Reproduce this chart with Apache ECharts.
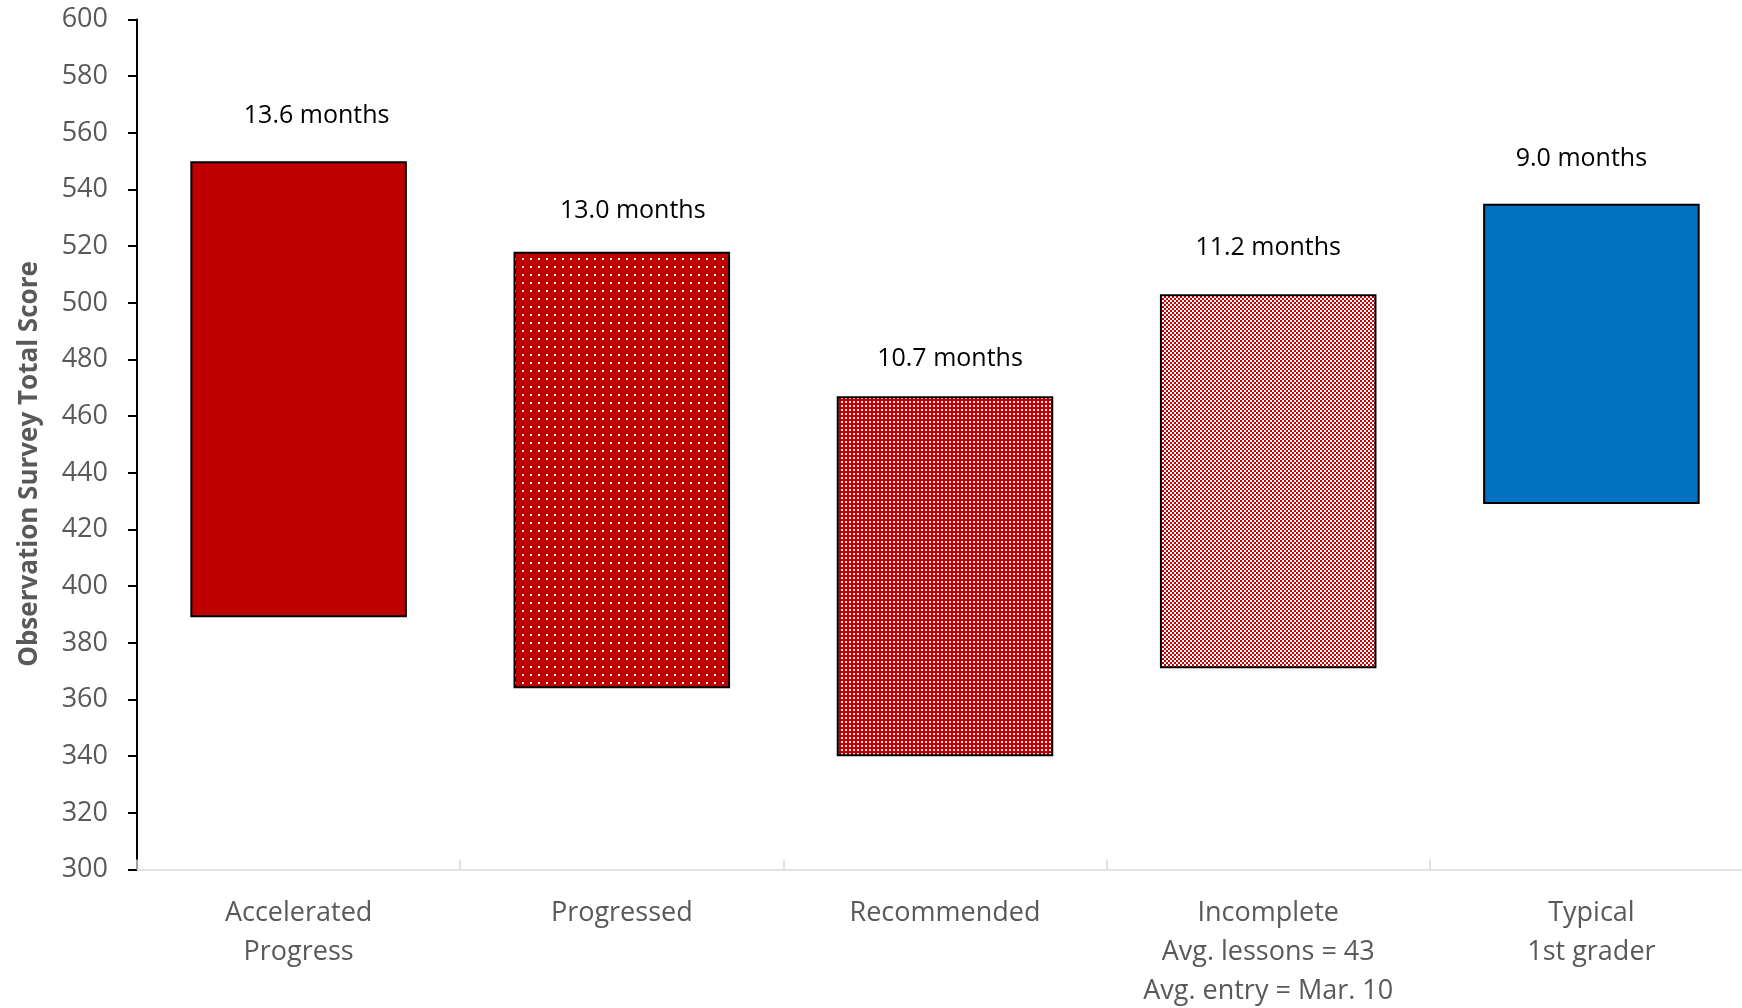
<!DOCTYPE html>
<html>
<head>
<meta charset="utf-8">
<script src="https://cdn.jsdelivr.net/npm/echarts@6/dist/echarts.min.js"></script>
<style>
  html, body { margin: 0; padding: 0; background: #ffffff; }
  #chart { width: 1742px; height: 1008px; }
</style>
</head>
<body>
<div id="chart"></div>
<script>
// Score ranges (start/end of year) per group, and the months each span took
const categories = [
  'Accelerated\nProgress',
  'Progressed',
  'Recommended',
  'Incomplete\nAvg. lessons = 43\nAvg. entry = Mar. 10',
  'Typical\n1st grader'
];
const scoreLow  = [389, 364, 340, 371, 429];
const scoreHigh = [550, 518, 467, 503, 535];
const monthLabels = ['13.6 months', '13.0 months', '10.7 months', '11.2 months', '9.0 months'];
const yMin = 300, yMax = 600, yStep = 20;

// Label nudges [dx, dy] above each bar top
const labelNudge = [[18, -30], [11, -26], [5, -22], [0, -31], [-10, -30]];

const RED = '#C00000';
const BLUE = '#0070C0';

// Small repeating tiles for the patterned fills
function tile(w, h, draw) {
  const c = document.createElement('canvas');
  c.width = w; c.height = h;
  const g = c.getContext('2d');
  draw(g);
  return { image: c, repeat: 'repeat' };
}
const sparseDots = tile(8, 8, g => {
  g.fillStyle = RED; g.fillRect(0, 0, 8, 8);
  g.fillStyle = '#ffffff'; g.fillRect(2, 2, 2, 2);
});
const denseDots = tile(4, 4, g => {
  g.fillStyle = RED; g.fillRect(0, 0, 4, 4);
  g.fillStyle = 'rgba(255,255,255,0.9)'; g.fillRect(1, 1, 2, 2);
});
const checker = tile(4, 4, g => {
  g.fillStyle = '#ffffff'; g.fillRect(0, 0, 4, 4);
  g.fillStyle = '#cc0000'; g.fillRect(0, 0, 2, 2); g.fillRect(2, 2, 2, 2);
});
const fills = [RED, sparseDots, denseDots, checker, BLUE];

const FONT = '"Open Sans", "Noto Sans", sans-serif';

const chart = echarts.init(document.getElementById('chart'), null, { renderer: 'canvas' });

chart.setOption({
  animation: false,
  backgroundColor: '#ffffff',
  grid: {
    left: 137, width: 1616, top: 19.5, bottom: 138.5,
    containLabel: false, outerBoundsMode: 'none'
  },
  xAxis: {
    type: 'category',
    data: categories,
    axisLine: { show: true, lineStyle: { color: '#d9d9d9', width: 1.5 } },
    axisTick: { show: true, inside: true, length: 10, lineStyle: { color: '#d9d9d9', width: 1.5 } },
    axisLabel: {
      color: '#595959', fontFamily: FONT, fontSize: 27, lineHeight: 39,
      margin: 24, interval: 0
    },
    splitLine: { show: false }
  },
  yAxis: {
    type: 'value',
    min: yMin, max: yMax, interval: yStep,
    axisLine: { show: true, lineStyle: { color: '#000000', width: 2 } },
    axisTick: { show: true, inside: false, length: 9, lineStyle: { color: '#000000', width: 2 } },
    axisLabel: { color: '#595959', fontFamily: FONT, fontSize: 27, margin: 29 },
    splitLine: { show: false }
  },
  graphic: [{
    type: 'text',
    x: 30, y: 464,
    rotation: Math.PI / 2,
    style: {
      text: 'Observation Survey Total Score',
      fill: '#595959',
      font: 'bold 26px ' + FONT,
      align: 'center',
      verticalAlign: 'middle'
    }
  }],
  series: [
    {
      type: 'bar',
      stack: 'range',
      silent: true,
      barWidth: '67%',
      itemStyle: { color: 'rgba(0,0,0,0)', borderWidth: 0 },
      data: scoreLow
    },
    {
      type: 'bar',
      stack: 'range',
      barWidth: '67%',
      data: scoreHigh.map((hi, i) => ({
        value: hi - scoreLow[i],
        itemStyle: { color: fills[i], borderColor: '#000000', borderWidth: 2 },
        label: {
          show: true,
          position: 'top',
          distance: 0,
          offset: labelNudge[i],
          formatter: monthLabels[i],
          color: '#000000',
          fontFamily: FONT,
          fontSize: 25,
          lineHeight: 30
        }
      }))
    }
  ]
});
</script>
</body>
</html>
